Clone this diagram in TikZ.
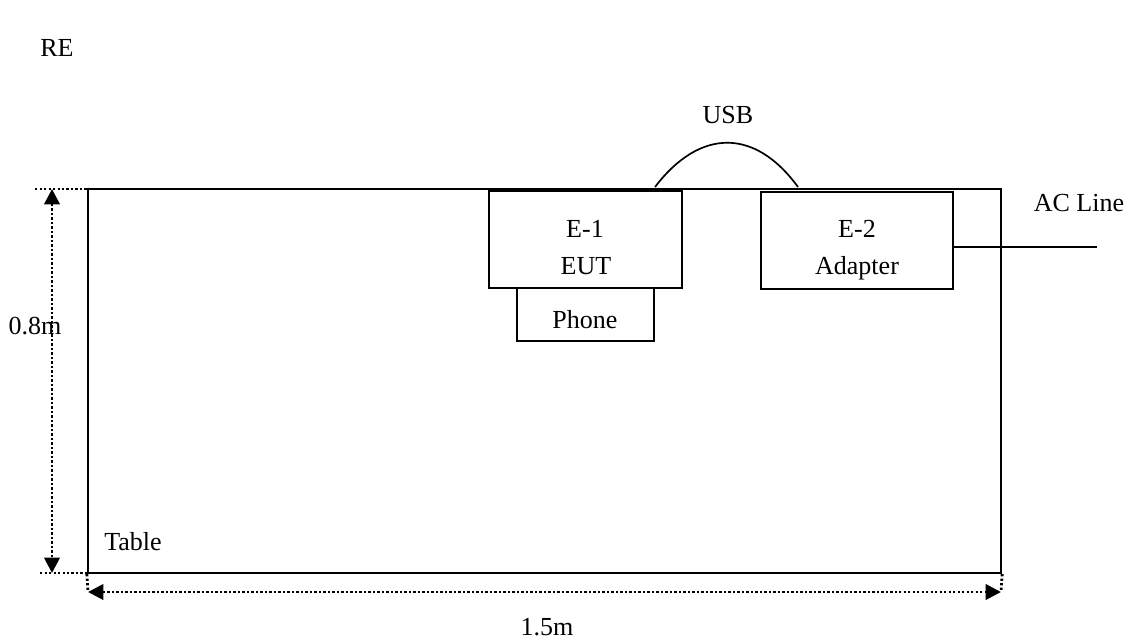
\documentclass[tikz,border=0pt]{standalone}
\usepackage{fontspec}
\setmainfont{Liberation Serif}
\usetikzlibrary{arrows.meta, positioning}
\definecolor{inkblack}{RGB}{0,0,0}

\tikzset{
  every node/.style={font=\fontsize{18.5}{22}\selectfont, text=inkblack},
  unitbox/.style={draw=inkblack, line width=1.3pt, inner sep=0pt},
  boxtext/.style={anchor=base},
  dimline/.style={line width=2pt, dash pattern=on 1.6pt off 1.6pt},
  dimarrow/.style={dimline, {Triangle[length=11pt, width=11pt]}-{Triangle[length=11pt, width=11pt]}}
}

\begin{document}
\begin{tikzpicture}[x=0.025cm, y=-0.025cm]
\useasboundingbox (0,0) rectangle (1136,640);

% table and its devices
\node[unitbox, line width=1.5pt, minimum width=22.825cm, minimum height=9.6cm] (table) at (544.5,381) {};
\node (tablelbl) at (133,542) {Table};
\node[unitbox, minimum width=4.825cm, minimum height=2.425cm] (eone) at (585.5,239.5) {};
\node[unitbox, minimum width=3.425cm, minimum height=1.325cm] (phone) at (585.5,314.5) {};
\node[unitbox, minimum width=4.8cm, minimum height=2.425cm] (etwo) at (857,240.5) {};
\node[boxtext] (eoneid) at (585,237.5) {E-1};
\node[boxtext] (eonename) at (586,274.5) {EUT};
\node[boxtext] (phonename) at (585,328.5) {Phone};
\node[boxtext] (etwoid) at (857,237.5) {E-2};
\node[boxtext] (etwoname) at (857,274.5) {Adapter};

% cables
\coordinate (usbA) at (655,187);
\coordinate (usbB) at (798,187);
\coordinate (acend) at (1097,247);
\draw[line width=1.2pt] (usbA) .. controls (700,128) and (755,128) .. (usbB);
\node (usblbl) at (728,115) {USB};
\draw[line width=1.2pt] (etwo.east |- acend) -- (acend);
\node (aclbl) at (1079,203) {AC Line};

% dimensions
\coordinate (vtop) at (52,189);
\coordinate (vbot) at (52,573);
\coordinate (hleft) at (88,592);
\coordinate (hright) at (1001,592);
\draw[dimline] (35,189) -- (105,189);
\draw[dimline] (40,573) -- (110,573);
\draw[dimline] (table.south west) -- (hleft);
\draw[dimline] (table.south east) -- (hright);
\draw[dimarrow] (vtop) -- (vbot);
\draw[dimarrow] (hleft) -- (hright);
\node (heightlbl) at (35,326) {0.8m};
\node (widthlbl) at (547,627) {1.5m};

\node (relbl) at (57,48) {RE};
\end{tikzpicture}
\end{document}
